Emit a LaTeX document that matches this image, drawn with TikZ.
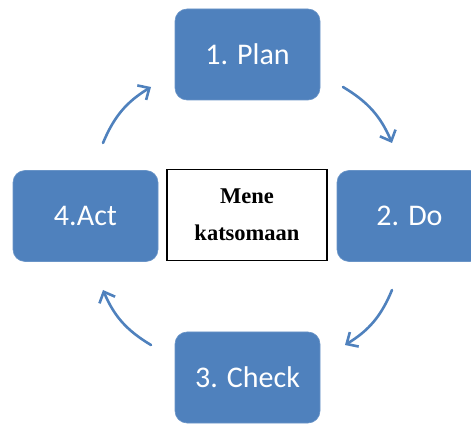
\documentclass[tikz,border=0pt]{standalone}
\usepackage{fontspec}
\usetikzlibrary{arrows.meta}
\newfontfamily\boxfont{Carlito}
\newfontfamily\timesfont{Liberation Serif}
\definecolor{cycleblue}{HTML}{4F81BD}

\tikzset{
  stagebox/.style={rectangle, rounded corners=12pt, fill=cycleblue,
    draw=cycleblue!85!white, line width=0.6pt,
    minimum width=145pt, minimum height=91pt, inner sep=0pt,
    text=white, font=\boxfont\fontsize{30}{36}\selectfont},
  cyclearrow/.style={draw=cycleblue, line width=2.6pt, line cap=round,
    -{Straight Barb[length=9pt, width=17pt, line width=2.6pt]}}
}

\begin{document}
\begin{tikzpicture}[x=1pt, y=1pt]
  \useasboundingbox (0,0) rectangle (471,423);

  % Stage boxes
  \node[stagebox] (plan)  at (247.5,368.5) {1. Plan};
  \node[stagebox] (do)    at (409.5,207)   {2. Do};
  \node[stagebox] (check) at (247.5,45.5)  {3. Check};
  \node[stagebox] (act)   at (85.5,207)    {4.Act};

  % Centre box
  \node[draw=black, line width=1.3pt, fill=white,
        minimum width=160pt, minimum height=91pt, inner sep=0pt,
        align=center, font=\timesfont\bfseries\fontsize{22.5}{37}\selectfont]
        (centre) at (247,208) {Mene\\katsomaan};

  % Arrow ends
  \coordinate (pd1) at (343,336);
  \coordinate (pd2) at (392,280);
  \coordinate (dc1) at (392,133);
  \coordinate (dc2) at (345,78);
  \coordinate (ca1) at (151,78);
  \coordinate (ca2) at (103,133);
  \coordinate (ap1) at (103,280);
  \coordinate (ap2) at (151,336);

  % Cycle arrows
  \draw[cyclearrow] (pd1) to[bend left=18] (pd2);
  \draw[cyclearrow] (dc1) to[bend left=18] (dc2);
  \draw[cyclearrow] (ca1) to[bend left=18] (ca2);
  \draw[cyclearrow] (ap1) to[bend left=18] (ap2);
\end{tikzpicture}
\end{document}
